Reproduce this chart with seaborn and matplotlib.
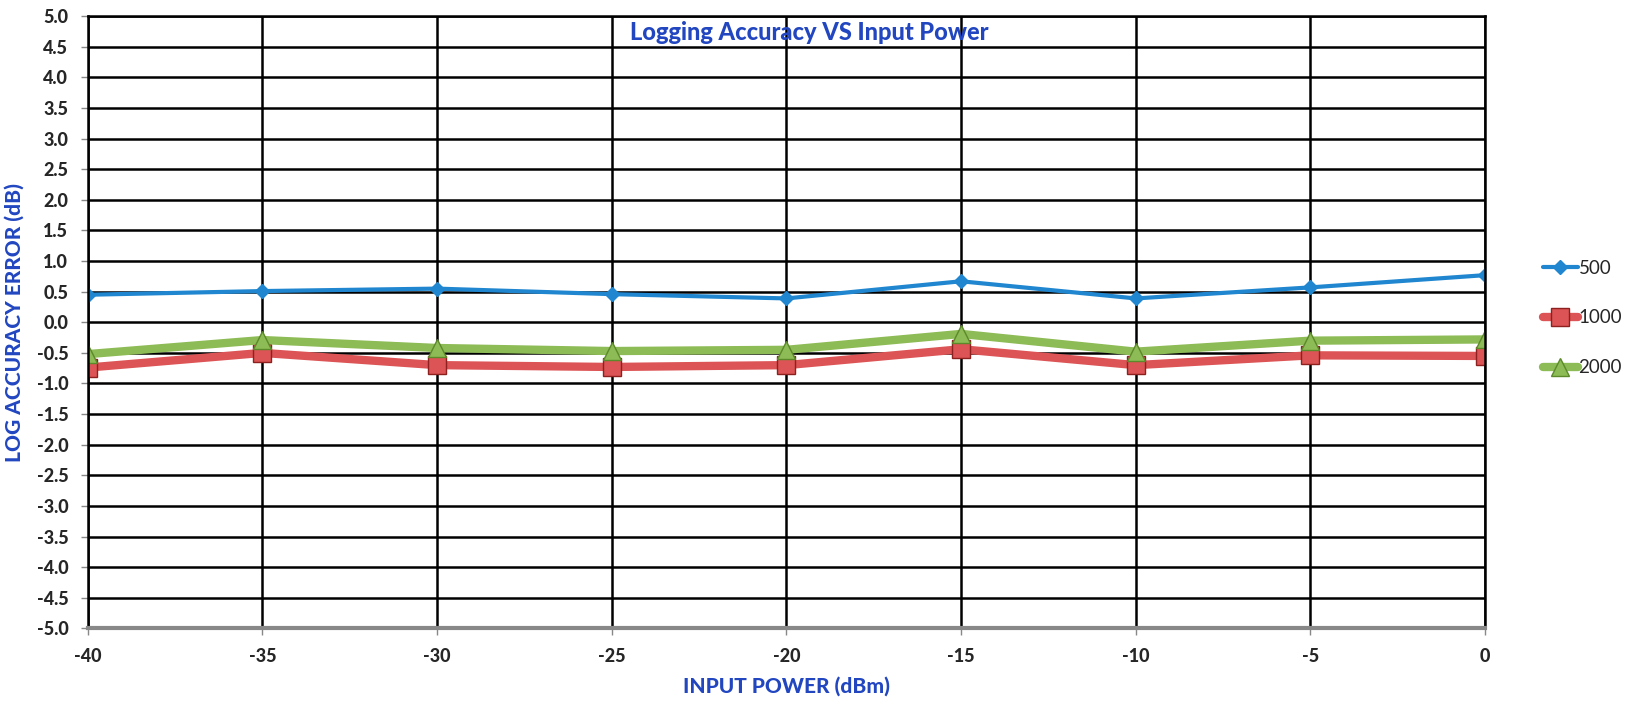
import numpy as np
import pandas as pd
import matplotlib
matplotlib.use("Agg")
import matplotlib.pyplot as plt
import seaborn as sns

# ─── Data ─────────────────────────────────────────────────────────────────────
input_power = [-40, -35, -30, -25, -20, -15, -10, -5, 0]
err_500  = [0.45, 0.51, 0.55, 0.46, 0.39, 0.67, 0.39, 0.57, 0.77]
err_1000 = [-0.74, -0.50, -0.70, -0.73, -0.70, -0.44, -0.70, -0.54, -0.55]
err_2000 = [-0.52, -0.29, -0.42, -0.47, -0.45, -0.19, -0.48, -0.30, -0.28]

series_names = ["500", "1000", "2000"]
y_ticks = np.arange(-5.0, 5.01, 0.5)

# ─── Style ────────────────────────────────────────────────────────────────────
sns.set_theme(style="white")
plt.rcParams["font.family"] = ["Lato", "DejaVu Sans"]
plt.rcParams["axes.unicode_minus"] = False

BLUE_TXT = "#2146C0"
styles = {
    "500":  dict(color="#1F86CF", marker="D", ms=7,  lw=3.0, mec="#1F86CF"),
    "1000": dict(color="#DC5455", marker="s", ms=13, lw=6.0, mec="#8E2020"),
    "2000": dict(color="#8DBB55", marker="^", ms=13, lw=6.0, mec="#5C8A2A"),
}

df = pd.DataFrame({
    "power": input_power * 3,
    "err": err_500 + err_1000 + err_2000,
    "freq": [s for s in series_names for _ in input_power],
})

fig = plt.figure(figsize=(16.31, 7.06), dpi=100)
ax = fig.add_axes([0.0538, 0.110, 0.8567, 0.867])

# draw 1000 first, then 2000, then 500 on top
for name in ["1000", "2000", "500"]:
    st = styles[name]
    sns.lineplot(data=df[df["freq"] == name], x="power", y="err", ax=ax,
                 color=st["color"], lw=st["lw"], marker=st["marker"],
                 markersize=st["ms"], markeredgecolor=st["mec"],
                 markeredgewidth=1.0, label=name)

ax.set_xlim(-40, 0)
ax.set_ylim(-5.0, 5.0)
ax.set_xticks(input_power)
ax.set_yticks(y_ticks)
ax.set_yticklabels([f"{v:.1f}" for v in y_ticks])
ax.grid(True, color="black", linewidth=1.8)
ax.set_axisbelow(True)

for side in ["left", "top", "right"]:
    ax.spines[side].set_color("black")
    ax.spines[side].set_linewidth(1.8)
ax.spines["bottom"].set_color("#888888")
ax.spines["bottom"].set_linewidth(3.0)

ax.tick_params(axis="y", which="major", length=5, width=1, color="#888888",
               direction="out", left=True, pad=9, labelsize=13)
ax.tick_params(axis="x", which="major", length=5, width=1, color="#888888",
               direction="out", bottom=True, pad=9, labelsize=13)
for lab in ax.get_xticklabels() + ax.get_yticklabels():
    lab.set_fontweight("black")

ax.set_xlabel("INPUT POWER (dBm)", color=BLUE_TXT, fontsize=15,
              fontweight="black", labelpad=8)
ax.set_ylabel("LOG ACCURACY ERROR (dB)", color=BLUE_TXT, fontsize=15,
              fontweight="black", labelpad=9)
ax.text(-19.35, 4.74, "Logging Accuracy VS Input Power", color=BLUE_TXT,
        fontsize=17, fontweight="black", ha="center", va="center")

handles, labels = ax.get_legend_handles_labels()
order = [labels.index(n) for n in series_names]
ax.legend([handles[i] for i in order], [labels[i] for i in order],
          loc="center left", bbox_to_anchor=(0.946, 0.5496),
          bbox_transform=fig.transFigure, frameon=False,
          fontsize=13.5, labelspacing=1.75, handlelength=1.85,
          handletextpad=0.05, borderpad=0.0, borderaxespad=0.0)

fig.savefig("out.png", dpi=100)
plt.close(fig)
